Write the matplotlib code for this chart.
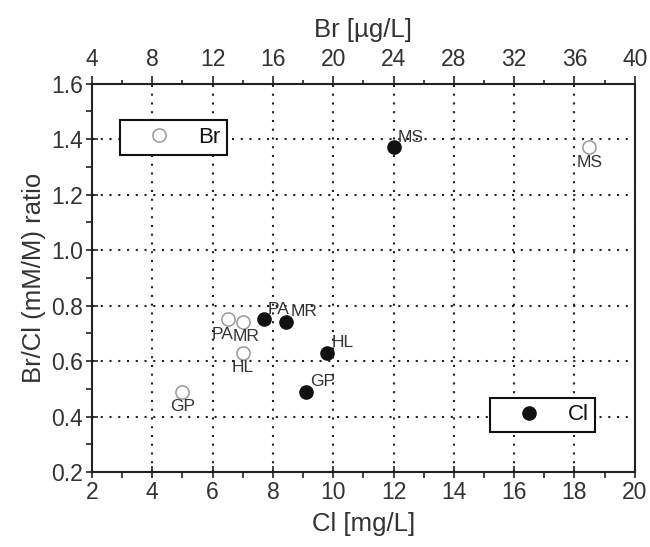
import matplotlib
matplotlib.use("Agg")
import matplotlib.pyplot as plt
from matplotlib.ticker import MultipleLocator
from matplotlib.lines import Line2D

plt.rcParams['font.family'] = ['Liberation Sans', 'DejaVu Sans']

# sites
sites = ['MS', 'PA', 'MR', 'HL', 'GP']
cl_mgL = [12.0, 7.7, 8.45, 9.8, 9.1]
br_ugL = [37.0, 13.0, 14.0, 14.0, 10.0]
ratio_cl = [1.37, 0.75, 0.74, 0.63, 0.49]
ratio_br = [1.37, 0.75, 0.74, 0.63, 0.49]
# label nudges for the open-circle labels (points)
br_lab_dx = [0, -3.5, 2.5, 0, 0]

txt = '#333333'

fig = plt.figure(figsize=(6.5, 5.47), dpi=100)
ax = fig.add_axes([0.1415, 0.137, 0.835, 0.71])

ax.set_xlim(2, 20)
ax.set_ylim(0.2, 1.6)
ax.xaxis.set_major_locator(MultipleLocator(2))
ax.xaxis.set_minor_locator(MultipleLocator(1))
ax.yaxis.set_major_locator(MultipleLocator(0.2))
ax.yaxis.set_minor_locator(MultipleLocator(0.1))
ax.yaxis.set_major_formatter(lambda v, p: f'{v:.1f}')
ax.grid(True, which='major', color='#222222', linestyle=(0, (1, 3.2)), linewidth=1.5)
ax.tick_params(which='major', direction='inout', length=9, width=1.2, labelsize=16.5,
               colors='#222222', labelcolor=txt, pad=2)
ax.tick_params(which='minor', direction='out', length=4, width=1.2, colors='#222222')
for s in ax.spines.values():
    s.set_linewidth(1.5)
    s.set_color('#222222')

ax.set_xlabel('Cl [mg/L]', fontsize=18.5, color=txt, labelpad=6)
ax.set_ylabel('Br/Cl (mM/M) ratio', fontsize=18.5, color=txt, labelpad=4)

ax.plot(cl_mgL, ratio_cl, 'o', color='#111111', markersize=9.5, zorder=5)
for name, x, y in zip(sites, cl_mgL, ratio_cl):
    ax.annotate(name, (x, y), xytext=(3, 7.5), textcoords='offset points',
                ha='left', va='center', fontsize=12.5, color=txt, zorder=6)

ax2 = ax.twiny()
ax2.set_xlim(4, 40)
ax2.xaxis.set_major_locator(MultipleLocator(4))
ax2.xaxis.set_minor_locator(MultipleLocator(2))
ax2.tick_params(which='major', direction='out', length=6, width=1.2, labelsize=16.5,
                colors='#222222', labelcolor=txt, pad=3)
ax2.tick_params(which='minor', direction='out', length=3, width=1.2, colors='#222222')
for s in ax2.spines.values():
    s.set_visible(False)
ax2.set_xlabel('Br [µg/L]', fontsize=18.5, color=txt, labelpad=8)

ax2.plot(br_ugL, ratio_br, 'o', markerfacecolor='white', markeredgecolor='#999999',
         markeredgewidth=1.1, markersize=9.5, zorder=5)
for name, x, y, dx in zip(sites, br_ugL, ratio_br, br_lab_dx):
    ax2.annotate(name, (x, y), xytext=(dx, -10.5), textcoords='offset points',
                 ha='center', va='center', fontsize=12.5, color=txt, zorder=6)

# two boxed legends
h_br = Line2D([], [], linestyle='none', marker='o', markerfacecolor='white',
              markeredgecolor='#999999', markeredgewidth=1.1, markersize=9.5)
h_cl = Line2D([], [], linestyle='none', marker='o', color='#111111', markersize=9.5)

leg_kw = dict(fontsize=16, frameon=True, fancybox=False, framealpha=1,
              edgecolor='#111111', borderpad=0.3, handlelength=2.9,
              handletextpad=0.3, borderaxespad=0, labelcolor='#111111')
lg1 = ax2.legend([h_br], ['Br'], loc='upper left', bbox_to_anchor=(0.0516, 0.906), **leg_kw)
lg1.get_frame().set_linewidth(1.5)
lg2 = ax.legend([h_cl], ['Cl'], loc='lower left', bbox_to_anchor=(0.733, 0.103), **leg_kw)
lg2.get_frame().set_linewidth(1.5)

fig.savefig('out.png', dpi=100)
